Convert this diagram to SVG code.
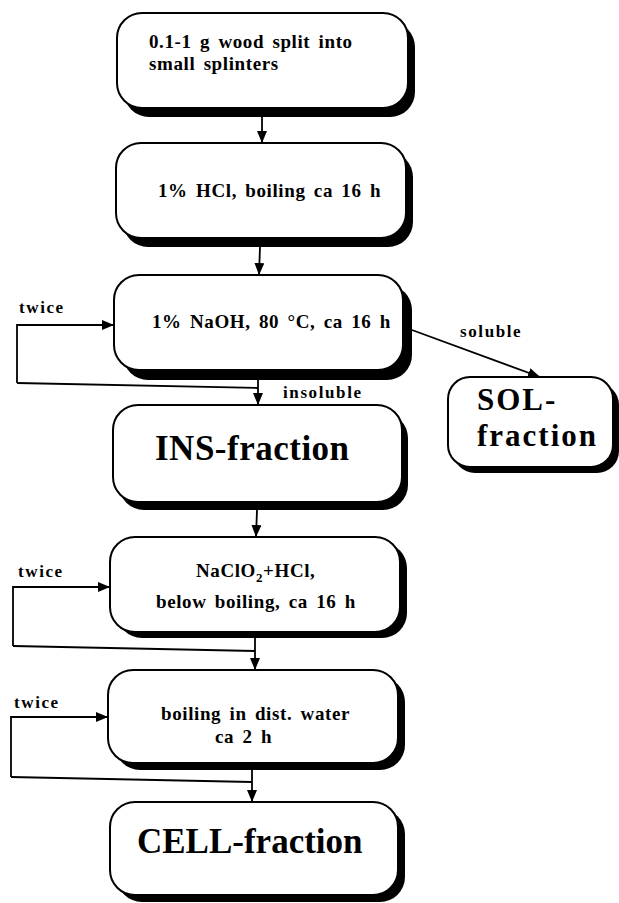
<svg xmlns="http://www.w3.org/2000/svg" width="619" height="903" viewBox="0 0 619 903">
<style>
.shadow{fill:#000}
.box{fill:#fff;stroke:#000;stroke-width:2}
.t{font-family:"Liberation Serif","Times New Roman",serif;font-weight:bold;fill:#000;font-size:19px;letter-spacing:0.6px;word-spacing:3px}
.lab{font-family:"Liberation Serif","Times New Roman",serif;font-weight:bold;fill:#000;font-size:17px;letter-spacing:1.6px}
.big{font-family:"Liberation Serif","Times New Roman",serif;font-weight:bold;fill:#000;font-size:35px;letter-spacing:0.5px}
.conn{fill:none;stroke:#000;stroke-width:1.8}
</style>
<defs>
<marker id="ah" markerUnits="userSpaceOnUse" markerWidth="12" markerHeight="14" refX="12" refY="5" orient="auto">
<path d="M0,0 L12,5 L0,10 Z" fill="#000"/>
</marker>
</defs>
<rect width="619" height="903" fill="#fff"/>
<g id="connectors">
<path class="conn" d="M262,117 L262,143" marker-end="url(#ah)"/>
<path class="conn" d="M260,247 L259,275" marker-end="url(#ah)"/>
<path class="conn" d="M17,383 L258,388"/>
<path class="conn" d="M17,383 L17,325 L114,325" marker-end="url(#ah)"/>
<path class="conn" d="M258,380 L258,405" marker-end="url(#ah)"/>
<path class="conn" d="M412,330 L540,377" marker-end="url(#ah)"/>
<path class="conn" d="M257,510 L256,537" marker-end="url(#ah)"/>
<path class="conn" d="M13,646 L255,651"/>
<path class="conn" d="M13,646 L13,587 L110,587" marker-end="url(#ah)"/>
<path class="conn" d="M255,638 L255,670" marker-end="url(#ah)"/>
<path class="conn" d="M11,777 L252,782"/>
<path class="conn" d="M11,777 L11,717 L108,717" marker-end="url(#ah)"/>
<path class="conn" d="M252,770 L252,802" marker-end="url(#ah)"/>
</g>
<g id="labels">
<text class="lab" x="19" y="313">twice</text>
<text class="lab" x="460" y="337">soluble</text>
<text class="lab" x="283" y="398">insoluble</text>
<text class="lab" x="18" y="577">twice</text>
<text class="lab" x="14" y="708">twice</text>
</g>
<g id="n1">
<rect class="shadow" x="124" y="22" width="291" height="95" rx="25"/>
<rect class="box" x="117" y="13" width="291" height="95" rx="25"/>
<text class="t" x="149" y="48">0.1-1 g wood split into</text>
<text class="t" x="149" y="70">small splinters</text>
</g>
<g id="n2">
<rect class="shadow" x="123" y="152" width="290" height="95" rx="25"/>
<rect class="box" x="116" y="143" width="290" height="95" rx="25"/>
<text class="t" x="158" y="197">1% HCl, boiling ca 16 h</text>
</g>
<g id="n3">
<rect class="shadow" x="123" y="285" width="289" height="95" rx="25"/>
<rect class="box" x="114" y="275" width="289" height="95" rx="25"/>
<text class="t" x="152" y="328">1% NaOH, 80 °C, ca 16 h</text>
</g>
<g id="ins">
<rect class="shadow" x="119" y="413" width="289" height="97" rx="25"/>
<rect class="box" x="113" y="405" width="289" height="97" rx="25"/>
<text class="big" x="155" y="460">INS-fraction</text>
</g>
<g id="sol">
<rect class="shadow" x="453" y="383" width="166" height="90" rx="22"/>
<rect class="box" x="448" y="377" width="165" height="90" rx="22"/>
<text class="big" x="477" y="410" style="font-size:31px;letter-spacing:2px">SOL-</text>
<text class="big" x="477" y="446" style="font-size:31px;letter-spacing:2px">fraction</text>
</g>
<g id="n4">
<rect class="shadow" x="117" y="543" width="290" height="95" rx="25"/>
<rect class="box" x="110" y="537" width="290" height="95" rx="25"/>
<text class="t" x="196" y="577">NaClO<tspan font-size="13" dy="5">2</tspan><tspan dy="-5">+HCl,</tspan></text>
<text class="t" x="156" y="608">below boiling, ca 16 h</text>
</g>
<g id="n5">
<rect class="shadow" x="115" y="677" width="290" height="93" rx="25"/>
<rect class="box" x="108" y="670" width="290" height="93" rx="25"/>
<text class="t" x="161" y="720">boiling in dist. water</text>
<text class="t" x="215" y="743">ca 2 h</text>
</g>
<g id="cell">
<rect class="shadow" x="117" y="809" width="288" height="93" rx="25"/>
<rect class="box" x="110" y="802" width="288" height="93" rx="25"/>
<text class="big" x="137" y="853" style="letter-spacing:0px">CELL-fraction</text>
</g>
</svg>
